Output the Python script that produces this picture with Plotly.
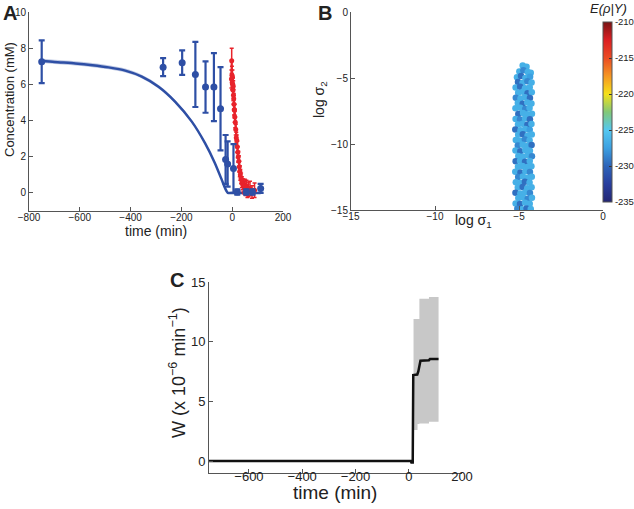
import plotly.graph_objects as go

W, H = 634, 509
FONT = "Liberation Sans, Arial, Helvetica, sans-serif"
BLUE = "#2e4fa5"
RED = "#e8232b"
AX = "#555555"
TXT = "#222222"

# ---------------- Panel A data ----------------
blue_t = [-750, -272, -197, -145, -105, -72, -46, -26, -18, 5, 20, 55, 80, 112]
blue_y = [7.25, 6.95, 7.2, 6.55, 5.85, 5.85, 4.65, 1.85, 1.6, 1.35, 0.05, 0.05, 0.05, 0.25]
blue_err = [1.18, 0.5, 0.68, 1.8, 1.42, 1.88, 2.3, 1.35, 1.25, 1.35, 0.15, 0.15, 0.15, 0.25]

red_t = [-3, -2, -1, 0, 1, 2, 3, 4, 5, 6, 7, 8, 9, 10, 12, 14, 16, 18, 20, 22, 24, 26, 28,
         30, 32, 35, 38, 41, 44, 47, 50, 53, 56, 60, 64, 70, 78, 88]
red_y = [6.3, 7.3, 6.5, 6.1, 6.4, 6.0, 5.7, 5.9, 5.4, 5.2, 4.9, 4.6, 4.6, 4.2, 3.9, 3.5, 3.05,
         2.9, 2.55, 2.25, 2.0, 1.75, 1.45, 1.2, 1.0, 0.8, 0.6, 0.48, 0.4, 0.3, 0.35, 0.2, 0.3,
         0.1, 0.2, 0.25, 0.05, 0.15]
red_err = [0.5, 0.7, 0.5, 0.4, 0.4, 0.35, 0.3, 0.3, 0.3, 0.3, 0.3, 0.3, 0.3, 0.3, 0.3, 0.3,
           0.3, 0.3, 0.3, 0.3, 0.3, 0.3, 0.3, 0.3, 0.3, 0.3, 0.3, 0.3, 0.35, 0.35, 0.4, 0.35,
           0.4, 0.35, 0.4, 0.4, 0.35, 0.4]

model_t = [-752, -700, -618, -550, -487, -421, -356, -290, -225, -159, -107, -68, -41, -28, -17, 0, 50, 112]
model_y = [7.31, 7.24, 7.16, 7.06, 6.94, 6.76, 6.43, 5.87, 5.05, 3.94, 2.75, 1.64, 0.72, 0.26, 0.0, 0.0, 0.0, 0.0]
model_spread = [0.12, 0.12, 0.12, 0.12, 0.11, 0.11, 0.1, 0.1, 0.09, 0.08, 0.07, 0.06, 0.05, 0.04, 0.03, 0.03, 0.03, 0.03]

# ---------------- Panel B data ----------------
sx = [
    -4.78, -4.55,
    -4.98, -4.74, -4.48, -4.30,
    -5.12, -4.88, -4.62, -4.34,
    -5.06, -4.79, -4.50, -4.25,
    -5.20, -4.93, -4.64, -4.36,
    -5.05, -4.77, -4.49, -4.24,
    -5.19, -4.91, -4.65, -4.35,
    -5.07, -4.78, -4.51, -4.26,
    -5.21, -4.92, -4.63, -4.37,
    -5.04, -4.76, -4.48, -4.23,
    -5.20, -4.94, -4.64, -4.35,
    -5.06, -4.79, -4.50, -4.26,
    -5.22, -4.91, -4.62, -4.36,
    -5.05, -4.77, -4.49, -4.24,
    -5.19, -4.93, -4.65, -4.37,
    -5.07, -4.78, -4.51, -4.25,
    -5.21, -4.92, -4.63, -4.35,
    -5.04, -4.76, -4.48, -4.23,
    -5.20, -4.94, -4.64, -4.36,
    -5.06, -4.79, -4.50, -4.26,
    -5.22, -4.91, -4.62, -4.35,
    -5.05, -4.77, -4.49, -4.24,
    -5.19, -4.93, -4.65, -4.37,
    -5.07, -4.78, -4.51, -4.25,
    -5.21, -4.92, -4.63, -4.35,
    -5.04, -4.76, -4.48, -4.23,
    -5.20, -4.94, -4.64, -4.36,
    -5.10, -4.82, -4.55, -4.30,
]
sy = [
    -4.05, -4.15,
    -4.50, -4.42, -4.55, -4.60,
    -4.95, -4.85, -5.00, -4.90,
    -5.30, -5.38, -5.25, -5.35,
    -5.72, -5.66, -5.78, -5.70,
    -6.12, -6.05, -6.15, -6.08,
    -6.50, -6.56, -6.45, -6.52,
    -6.90, -6.95, -6.86, -6.93,
    -7.30, -7.25, -7.35, -7.28,
    -7.72, -7.66, -7.75, -7.70,
    -8.10, -8.15, -8.06, -8.12,
    -8.52, -8.46, -8.55, -8.48,
    -8.90, -8.95, -8.86, -8.92,
    -9.30, -9.26, -9.35, -9.28,
    -9.70, -9.76, -9.66, -9.72,
    -10.12, -10.06, -10.15, -10.08,
    -10.50, -10.55, -10.46, -10.52,
    -10.90, -10.95, -10.86, -10.93,
    -11.30, -11.26, -11.35, -11.28,
    -11.72, -11.66, -11.75, -11.68,
    -12.10, -12.15, -12.06, -12.12,
    -12.50, -12.46, -12.55, -12.48,
    -12.90, -12.95, -12.86, -12.92,
    -13.30, -13.26, -13.35, -13.28,
    -13.70, -13.75, -13.66, -13.72,
    -14.10, -14.06, -14.15, -14.08,
    -14.50, -14.55, -14.46, -14.52,
    -14.90, -14.95, -14.88, -14.93,
]
sc = [
    -226.5, -226.5,
    -226.5, -228.5, -226.5, -226.5,
    -226.5, -229.5, -226.5, -227.5,
    -229.5, -226.5, -228.5, -226.5,
    -226.5, -229.5, -226.5, -226.5,
    -226.5, -226.5, -229.5, -226.5,
    -228.5, -226.5, -226.5, -229.5,
    -226.5, -229.5, -226.5, -226.5,
    -226.5, -226.5, -228.5, -226.5,
    -229.5, -226.5, -226.5, -226.5,
    -226.5, -228.5, -226.5, -229.5,
    -226.5, -226.5, -229.5, -226.5,
    -229.5, -226.5, -226.5, -227.5,
    -226.5, -229.5, -226.5, -226.5,
    -226.5, -226.5, -228.5, -226.5,
    -228.5, -226.5, -226.5, -229.5,
    -226.5, -229.5, -226.5, -226.5,
    -226.5, -226.5, -226.5, -228.5,
    -229.5, -226.5, -229.5, -226.5,
    -226.5, -226.5, -226.5, -226.5,
    -226.5, -229.5, -226.5, -228.5,
    -228.5, -226.5, -226.5, -226.5,
    -226.5, -226.5, -229.5, -226.5,
    -226.5, -229.5, -226.5, -226.5,
    -229.5, -226.5, -226.5, -228.5,
    -226.5, -226.5, -228.5, -226.5,
    -226.5, -229.5, -226.5, -226.5,
    -228.5, -226.5, -229.5, -226.5,
]

# ---------------- Panel C data ----------------
w_t = [-750, 8, 10, 15, 17, 32, 36, 44, 76, 80, 112]
w_y = [0, 0, -0.12, -0.12, 7.2, 7.25, 7.5, 8.4, 8.45, 8.55, 8.55]
band_t = [18, 33, 40, 76, 112]
band_hi = [11.9, 11.9, 13.6, 13.75, 13.75]
band_lo = [2.6, 3.1, 3.15, 3.3, 3.3]

colorscale = [
    [0.0, "rgb(35,38,115)"],
    [0.1, "rgb(40,62,158)"],
    [0.2, "rgb(45,100,185)"],
    [0.3, "rgb(60,160,225)"],
    [0.4, "rgb(85,200,240)"],
    [0.5, "rgb(130,200,120)"],
    [0.6, "rgb(245,225,25)"],
    [0.7, "rgb(245,150,35)"],
    [0.8, "rgb(235,75,35)"],
    [0.9, "rgb(220,30,35)"],
    [1.0, "rgb(120,20,20)"],
]

fig = go.Figure()

# Panel A
fig.add_trace(go.Scatter(
    x=model_t, y=[a + b for a, b in zip(model_y, model_spread)], mode="lines",
    line=dict(width=0, shape="spline"), hoverinfo="skip", xaxis="x", yaxis="y"))
fig.add_trace(go.Scatter(
    x=model_t, y=[a - b for a, b in zip(model_y, model_spread)], mode="lines",
    line=dict(width=0, shape="spline"), fill="tonexty", fillcolor="rgba(46,79,165,0.3)",
    hoverinfo="skip", xaxis="x", yaxis="y"))
fig.add_trace(go.Scatter(
    x=model_t, y=model_y, mode="lines", line=dict(color=BLUE, width=2.5, shape="spline", smoothing=0.6),
    xaxis="x", yaxis="y"))
fig.add_trace(go.Scatter(
    x=red_t, y=red_y, mode="lines+markers", line=dict(color=RED, width=2),
    marker=dict(color=RED, size=5),
    error_y=dict(type="data", array=red_err, visible=True, color=RED, thickness=1.5, width=2),
    xaxis="x", yaxis="y"))
fig.add_trace(go.Scatter(
    x=blue_t, y=blue_y, mode="markers", marker=dict(color=BLUE, size=7),
    error_y=dict(type="data", array=blue_err, visible=True, color=BLUE, thickness=2.2, width=3),
    xaxis="x", yaxis="y"))

# Panel B
fig.add_trace(go.Scatter(
    x=sx, y=sy, mode="markers", xaxis="x2", yaxis="y2",
    marker=dict(size=6.5, color=sc, cmin=-235, cmax=-210, colorscale=colorscale,
                line=dict(width=0),
                colorbar=dict(
                    x=603 / W, xanchor="left", xpad=0,
                    y=1 - 112 / H, yanchor="middle", ypad=0,
                    len=180 / H, lenmode="fraction",
                    thickness=9, thicknessmode="pixels",
                    tickvals=[-235, -230, -225, -220, -215, -210],
                    ticktext=["-235", "-230", "-225", "-220", "-215", "-210"],
                    ticks="inside", ticklen=3, tickcolor="#333",
                    outlinewidth=1, outlinecolor=AX,
                    tickfont=dict(family=FONT, size=9.5, color=TXT),
                ))))

# Panel C
fig.add_trace(go.Scatter(
    x=band_t, y=band_hi, mode="lines", line=dict(width=0, shape="hv"),
    hoverinfo="skip", xaxis="x3", yaxis="y3"))
fig.add_trace(go.Scatter(
    x=band_t, y=band_lo, mode="lines", line=dict(width=0, shape="hv"), fill="tonexty",
    fillcolor="rgb(200,200,200)", hoverinfo="skip", xaxis="x3", yaxis="y3"))
fig.add_trace(go.Scatter(
    x=w_t, y=w_y, mode="lines", line=dict(color="#111111", width=2.5),
    xaxis="x3", yaxis="y3"))


def axis(domain, rng, tickvals, size=10, anchor=None, standoff=0):
    return dict(
        domain=domain, range=rng, tickvals=tickvals, anchor=anchor,
        showline=True, linecolor=AX, linewidth=1, ticks="inside", ticklen=4,
        tickcolor=AX, showgrid=False, zeroline=False, mirror=False,
        ticklabelstandoff=standoff,
        tickfont=dict(family=FONT, size=size, color=TXT), fixedrange=True,
    )


def ann(text, x, y, size, angle=0, bold=False, italic=False):
    if bold:
        text = "<b>" + text + "</b>"
    if italic:
        text = "<i>" + text + "</i>"
    return dict(text=text, x=x / W, y=1 - y / H, xref="paper", yref="paper",
                showarrow=False, xanchor="center", yanchor="middle", textangle=angle,
                font=dict(family=FONT, size=size, color=TXT))


fig.update_layout(
    width=W, height=H, margin=dict(l=0, r=0, t=0, b=0, pad=0, autoexpand=False),
    paper_bgcolor="white", plot_bgcolor="white", showlegend=False,
    xaxis=axis([29 / W, 283 / W], [-800, 200], [-800, -600, -400, -200, 0, 200], anchor="y", standoff=-3),
    yaxis=axis([1 - 211 / H, 1 - 12 / H], [-1, 10], [0, 2, 4, 6, 8, 10], anchor="x"),
    xaxis2=axis([351 / W, 603 / W], [-15, 0], [-15, -10, -5, 0], anchor="y2", standoff=-3),
    yaxis2=axis([1 - 210 / H, 1 - 12 / H], [-15, 0], [-15, -10, -5, 0], anchor="x2"),
    xaxis3=axis([209 / W, 462 / W], [-750, 200], [-600, -400, -200, 0, 200], size=13, anchor="y3", standoff=-9),
    yaxis3=axis([1 - 473 / H, 1 - 282 / H], [-1, 15], [0, 5, 10, 15], size=13, anchor="x3"),
    annotations=[
        ann("A", 10, 13, 20, bold=True),
        ann("B", 325, 13, 20, bold=True),
        ann("C", 177, 280, 20, bold=True),
        ann("time (min)", 156, 231, 14),
        ann("Concentration (mM)", 9, 100, 13, angle=-90),
        ann("log σ<sub>1</sub>", 473, 221, 14),
        ann("log σ<sub>2</sub>", 320, 100, 14, angle=-90),
        ann("E(ρ|Y)", 608, 8, 13, italic=True),
        ann("time (min)", 335, 492, 19),
        ann("W (x 10<sup>−6</sup> min<sup>−1</sup>)", 177, 373, 18, angle=-90),
    ],
)

fig.write_html("out.html", config={"displayModeBar": False},
               post_script="document.body.style.margin='0';document.body.style.overflow='hidden';")
